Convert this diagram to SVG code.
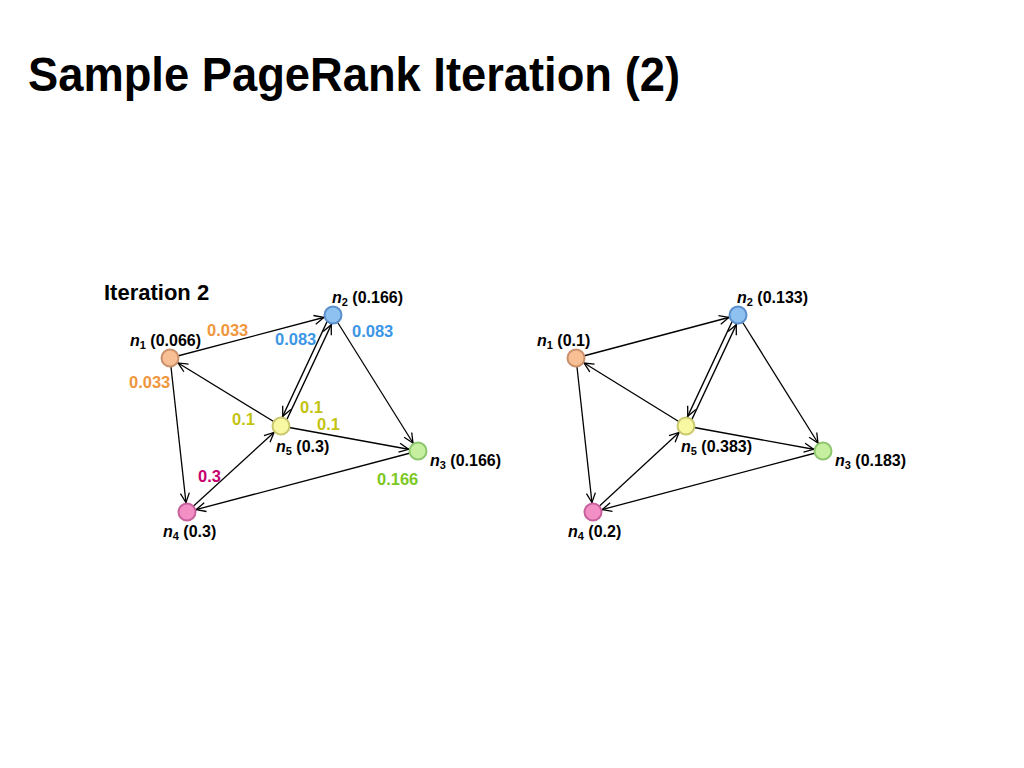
<svg xmlns="http://www.w3.org/2000/svg" width="1024" height="768" viewBox="0 0 1024 768">
<defs>
<marker id="arr" markerUnits="userSpaceOnUse" markerWidth="30" markerHeight="30" viewBox="-30 -15 30 30" refX="0" refY="0" orient="auto" overflow="visible">
<path d="M-19,-4.5 L-9.5,0 L-19,4.5" fill="none" stroke="#000" stroke-width="1.3"/>
</marker>
</defs>
<style>
text{font-family:"Liberation Sans",Arial,sans-serif;font-weight:bold}
.t{font-size:48px}
.h{font-size:22px}
.l{font-size:16px;fill:#000}
.v{font-size:16.5px}
.i{font-style:italic}
.s{font-size:11px}
.e line{stroke:#000;stroke-width:1.3;marker-end:url(#arr)}
.n1{fill:#F8BF94;stroke:#C9916B;stroke-width:2}
.n2{fill:#8EC0F0;stroke:#5B8FCB;stroke-width:2}
.n3{fill:#C6EFA0;stroke:#8DC66E;stroke-width:2}
.n4{fill:#F290C6;stroke:#C8609E;stroke-width:2}
.n5{fill:#F8F8A2;stroke:#C9C86E;stroke-width:2}
.o{fill:#F0963C}.b{fill:#3C96E6}.y{fill:#C3C314}.m{fill:#C8006E}.g{fill:#7CC823}
</style>
<rect width="1024" height="768" fill="#fff"/>
<text class="t" x="28" y="91" textLength="652" lengthAdjust="spacingAndGlyphs">Sample PageRank Iteration (2)</text>

<g id="connectors-left" class="e">
<line x1="170" y1="358" x2="333" y2="315"/>
<line x1="170" y1="358" x2="187" y2="512"/>
<line x1="333" y1="315" x2="418" y2="451"/>
<line x1="330.7" y1="313.9" x2="278.7" y2="424.9"/>
<line x1="283.3" y1="427.1" x2="335.3" y2="316.1"/>
<line x1="281" y1="426" x2="170" y2="358"/>
<line x1="281" y1="426" x2="418" y2="451"/>
<line x1="418" y1="451" x2="187" y2="512"/>
<line x1="187" y1="512" x2="281" y2="426"/>
</g>
<g id="connectors-right" class="e">
<line x1="576" y1="358" x2="738" y2="315"/>
<line x1="576" y1="358" x2="593" y2="512"/>
<line x1="738" y1="315" x2="823" y2="451"/>
<line x1="735.7" y1="313.9" x2="683.7" y2="424.9"/>
<line x1="688.3" y1="427.1" x2="740.3" y2="316.1"/>
<line x1="686" y1="426" x2="576" y2="358"/>
<line x1="686" y1="426" x2="823" y2="451"/>
<line x1="823" y1="451" x2="593" y2="512"/>
<line x1="593" y1="512" x2="686" y2="426"/>
</g>

<text class="h" x="104" y="300">Iteration 2</text>

<g id="L-n1"><circle class="n1" cx="170" cy="358" r="8.5"/><text class="l" x="130" y="346"><tspan class="i">n</tspan><tspan class="s" dy="3">1</tspan><tspan dy="-3"> (0.066)</tspan></text></g>
<g id="L-n2"><circle class="n2" cx="333" cy="315" r="8.5"/><text class="l" x="332" y="303"><tspan class="i">n</tspan><tspan class="s" dy="3">2</tspan><tspan dy="-3"> (0.166)</tspan></text></g>
<g id="L-n3"><circle class="n3" cx="418" cy="451" r="8.5"/><text class="l" x="430" y="466"><tspan class="i">n</tspan><tspan class="s" dy="3">3</tspan><tspan dy="-3"> (0.166)</tspan></text></g>
<g id="L-n4"><circle class="n4" cx="187" cy="512" r="8.5"/><text class="l" x="163" y="537"><tspan class="i">n</tspan><tspan class="s" dy="3">4</tspan><tspan dy="-3"> (0.3)</tspan></text></g>
<g id="L-n5"><circle class="n5" cx="281" cy="426" r="8.5"/><text class="l" x="276" y="452"><tspan class="i">n</tspan><tspan class="s" dy="3">5</tspan><tspan dy="-3"> (0.3)</tspan></text></g>

<g id="L-values">
<text class="v o" x="207" y="336">0.033</text>
<text class="v o" x="129" y="388">0.033</text>
<text class="v b" x="275" y="345">0.083</text>
<text class="v b" x="352" y="337">0.083</text>
<text class="v y" x="232" y="425">0.1</text>
<text class="v y" x="300" y="413">0.1</text>
<text class="v y" x="317" y="430">0.1</text>
<text class="v m" x="198" y="482">0.3</text>
<text class="v g" x="377" y="485">0.166</text>
</g>

<g id="R-n1"><circle class="n1" cx="576" cy="358" r="8.5"/><text class="l" x="537" y="346"><tspan class="i">n</tspan><tspan class="s" dy="3">1</tspan><tspan dy="-3"> (0.1)</tspan></text></g>
<g id="R-n2"><circle class="n2" cx="738" cy="315" r="8.5"/><text class="l" x="737" y="303"><tspan class="i">n</tspan><tspan class="s" dy="3">2</tspan><tspan dy="-3"> (0.133)</tspan></text></g>
<g id="R-n3"><circle class="n3" cx="823" cy="451" r="8.5"/><text class="l" x="835" y="466"><tspan class="i">n</tspan><tspan class="s" dy="3">3</tspan><tspan dy="-3"> (0.183)</tspan></text></g>
<g id="R-n4"><circle class="n4" cx="593" cy="512" r="8.5"/><text class="l" x="568" y="537"><tspan class="i">n</tspan><tspan class="s" dy="3">4</tspan><tspan dy="-3"> (0.2)</tspan></text></g>
<g id="R-n5"><circle class="n5" cx="686" cy="426" r="8.5"/><text class="l" x="681" y="452"><tspan class="i">n</tspan><tspan class="s" dy="3">5</tspan><tspan dy="-3"> (0.383)</tspan></text></g>
</svg>
